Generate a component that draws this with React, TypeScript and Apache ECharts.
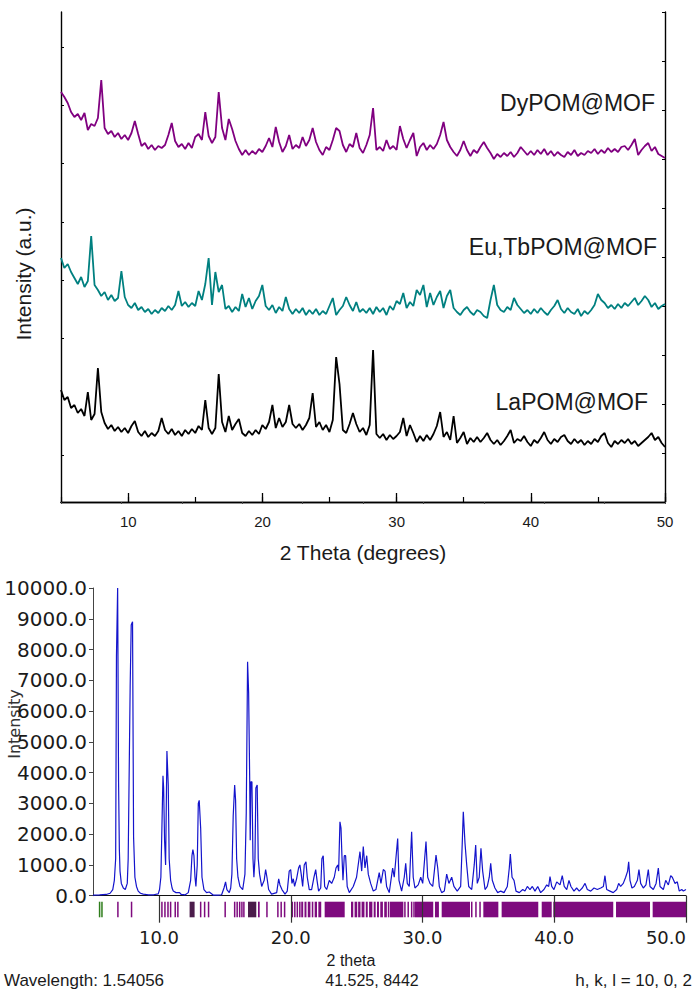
import React, { useEffect, useRef } from "react";
import * as echarts from "echarts";

// ---------- Top panel: measured PXRD (arbitrary units), 2θ from 5° step 0.25° ----------
const TOP_START = 5;
const TOP_STEP = 0.25;

const DY_POM = [
  410,405,399,390,385,388,382,389,372,378,376,384,422,374,368,371,365,369,363,367,
  362,369,381,368,356,359,353,357,352,356,354,357,367,379,361,355,358,353,359,354,
  365,368,362,390,366,359,365,410,374,362,383,373,361,353,347,352,347,351,348,353,
  350,356,364,355,375,360,350,356,367,353,357,354,365,356,362,374,360,352,347,355,
  352,362,374,371,357,350,358,355,369,354,349,357,367,394,352,355,351,362,353,356,
  352,376,363,354,362,369,346,355,359,352,357,353,358,367,380,362,355,350,346,352,
  361,352,346,352,349,355,360,354,349,343,348,345,349,346,350,345,349,355,351,347,
  351,347,352,348,353,347,351,346,350,347,345,350,347,352,346,349,347,351,349,353,
  348,352,349,354,350,353,350,355,356,352,357,363,347,352,356,359,351,355,348,346,
  344,
];

const EUTB_POM = [
  244,234,238,230,224,218,225,215,221,266,217,212,206,210,202,207,201,204,231,205,
  197,194,199,192,195,190,193,188,192,189,194,191,196,192,197,211,196,200,195,199,
  196,211,202,218,244,197,230,210,217,193,196,190,195,191,208,195,204,193,201,206,
  217,196,192,197,189,195,191,205,193,188,193,189,194,187,192,188,193,187,191,188,
  196,204,187,192,196,205,197,191,200,190,193,189,194,188,195,190,194,187,196,192,
  201,198,209,194,200,196,212,207,217,195,209,197,205,211,194,206,212,194,190,187,
  192,195,190,187,192,190,186,184,202,217,197,192,190,195,192,204,197,193,189,192,
  188,193,189,194,190,187,192,196,202,193,189,194,190,188,193,186,191,188,192,197,
  208,202,199,194,197,193,198,194,199,196,200,204,197,201,206,202,195,199,193,196,
  198,
];

const LA_POM = [
  112,102,105,94,97,89,93,86,110,82,88,134,90,79,73,77,71,75,70,74,
  69,76,81,70,66,71,65,69,66,71,84,72,68,73,67,71,66,72,68,73,
  69,76,72,102,74,68,74,128,80,70,86,72,78,83,69,66,71,67,72,68,
  77,73,80,97,74,84,75,80,97,78,74,78,72,77,84,109,75,80,72,77,
  70,82,145,118,72,69,78,89,78,70,74,67,77,152,68,64,68,62,67,63,
  66,70,84,66,77,69,60,66,61,67,62,68,76,90,65,70,62,86,59,64,
  70,58,64,60,65,60,64,69,62,58,62,57,61,66,72,59,63,61,66,60,
  56,62,59,64,70,62,58,63,60,65,67,61,58,63,59,62,57,61,58,63,
  60,66,69,59,55,61,58,62,59,63,58,61,56,59,62,65,69,62,65,59,
  55,
];

const SAMPLE_NAMES = ["DyPOM@MOF", "Eu,TbPOM@MOF", "LaPOM@MOF"];
const SAMPLE_COLORS = ["#800080", "#008080", "#000000"];

// ---------- Bottom panel: simulated pattern [2θ, intensity] ----------
const SIM_PATTERN = [
  [5.0,20],[5.5,25],[6.0,40],[6.3,80],[6.5,200],[6.62,500],[6.72,1200],[6.78,7800],[6.87,10000],[6.94,3700],[7.0,1500],[7.05,800],[7.15,400],[7.3,250],[7.45,200],[7.6,400],[7.67,1200],[7.82,6800],[7.9,8800],[8.0,8900],[8.08,1900],[8.18,600],[8.3,300],[8.43,150],[8.6,80],[8.81,50],[9.2,30],[9.6,30],[9.95,60],
  [10.05,200],[10.15,600],[10.2,1600],[10.31,3900],[10.36,3500],[10.43,1800],[10.51,1000],[10.61,4700],[10.71,3600],[10.78,1200],[10.89,500],[11.0,250],[11.09,150],[11.3,100],[11.57,100],[11.7,40],[12.0,30],
  [12.23,100],[12.41,500],[12.51,1300],[12.58,1500],[12.66,1300],[12.74,600],[12.81,300],[12.91,1000],[12.99,3000],[13.06,3100],[13.17,2200],[13.27,600],[13.42,200],[13.62,100],[13.82,120],[14.12,20],[14.5,20],[14.76,30],[14.94,250],[15.06,450],[15.16,200],[15.34,100],
  [15.45,250],[15.54,700],[15.64,2600],[15.75,3600],[15.82,3100],[15.9,1200],[16.0,600],[16.15,300],[16.36,200],[16.53,700],[16.63,2700],[16.73,7600],[16.81,6600],[16.89,3800],[16.93,1800],[16.98,3700],[17.06,3700],[17.14,1200],[17.21,600],[17.29,1200],[17.36,3500],[17.46,3600],[17.54,1200],[17.64,700],[17.8,300],[17.99,500],[18.1,850],[18.2,600],[18.33,200],[18.55,50],[18.94,100],[19.09,550],[19.19,350],[19.34,200],[19.57,50],[19.74,150],[19.89,800],[20.0,850],
  [20.1,400],[20.2,550],[20.3,300],[20.45,550],[20.6,900],[20.7,1000],[20.8,700],[20.91,300],[21.03,1000],[21.16,1100],[21.26,600],[21.41,200],[21.59,200],[21.77,600],[21.9,850],[22.0,500],[22.12,150],[22.28,250],[22.37,1200],[22.47,1300],[22.58,300],[22.73,200],[22.93,500],[23.11,400],[23.31,600],[23.44,900],[23.57,1000],[23.64,800],[23.74,2400],[23.82,2200],[23.89,1300],[23.97,500],[24.07,1300],[24.17,1300],[24.29,300],[24.45,100],
  [24.75,300],[25.0,600],[25.26,1430],[25.39,800],[25.51,1600],[25.64,900],[25.77,1300],[25.89,700],[26.07,400],[26.27,150],[26.47,200],[26.72,750],[26.85,400],[27.03,850],[27.16,800],[27.28,300],[27.48,100],[27.74,900],[27.86,600],[28.12,1860],[28.22,500],[28.42,150],[28.62,600],[28.73,1050],[28.85,400],[29.0,300],[29.18,2080],[29.3,600],[29.43,250],[29.68,350],[29.87,600],[30.02,400],[30.27,1760],[30.4,600],[30.57,400],[30.78,300],[31.03,1320],[31.16,900],[31.28,300],[31.46,100],[31.66,150],[31.84,700],[32.01,400],[32.22,600],[32.39,300],[32.64,150],[32.9,300],[33.02,1700],[33.1,2730],[33.23,1700],[33.36,1000],[33.51,300],[33.74,200],[33.93,1000],[34.04,1650],[34.16,400],[34.31,600],[34.44,1540],[34.57,800],[34.75,200],[34.92,300],[35.07,600],[35.18,1050],[35.3,500],[35.5,250],[35.71,100],[35.94,150],[36.19,100],[36.44,300],[36.59,900],[36.67,1350],[36.8,600],[36.95,500],[37.1,150],[37.35,100],[37.61,200],[37.78,150],[37.96,300],[38.16,200],[38.34,300],[38.54,150],[38.75,300],[38.97,100],[39.22,200],[39.43,350],[39.58,300],[39.68,620],[39.81,300],[39.98,200],[40.19,450],[40.44,350],[40.61,650],[40.76,300],[40.95,200],[41.12,500],[41.27,300],[41.5,150],[41.7,250],[41.9,150],[42.13,250],[42.34,400],[42.51,200],[42.77,150],[43.02,250],[43.27,200],[43.53,250],[43.73,300],[43.85,650],[43.98,200],[44.23,150],[44.48,100],[44.74,200],[44.89,400],[45.04,300],[45.24,400],[45.42,600],[45.57,800],[45.65,1100],[45.75,500],[45.9,250],[46.08,300],[46.31,500],[46.43,850],[46.56,400],[46.76,250],[46.96,350],[47.14,850],[47.27,300],[47.52,200],[47.73,400],[47.9,900],[48.03,300],[48.28,200],[48.46,500],[48.66,350],[48.84,650],[48.96,600],[49.17,400],[49.34,450],[49.49,150],[49.68,200],[49.8,150],[50.0,200],
];

// Reflection markers [from 2θ, to 2θ, kind] kind: 0 purple, 1 green, 2 dark mixed
const REFLECTIONS = [
  [5.50,5.50,1],[5.68,5.68,1],
  [6.89,6.89,0],[7.90,7.95,0],
  [10.23,10.23,0],[10.46,10.46,0],[10.69,10.69,0],[10.89,10.89,0],[11.24,11.24,0],[11.44,11.44,0],
  [12.33,12.71,2],
  [13.17,13.17,0],[13.47,13.47,0],[13.77,13.77,0],
  [15.03,15.03,0],[15.75,15.75,0],[15.94,15.94,0],[16.13,16.13,0],[16.30,16.30,0],[16.45,16.45,0],
  [16.76,17.39,2],[17.52,17.65,0],[18.2,18.2,0],[19.03,19.03,0],[19.28,19.28,0],[19.54,19.54,0],
  [20.10,20.15,0],[20.29,20.34,0],[20.48,20.53,0],[20.67,20.72,0],[20.80,20.95,0],[21.05,21.20,0],[21.30,21.50,0],[21.60,21.72,0],[21.82,22.00,0],[22.10,22.32,0],
  [22.58,24.10,0],
  [24.58,24.75,0],[24.85,25.05,0],[25.12,25.30,0],[25.38,25.60,0],[25.70,25.85,0],[25.95,26.20,0],[26.30,26.45,0],[26.55,26.70,0],[26.80,27.00,0],[27.10,27.30,0],[27.38,27.48,0],
  [27.53,28.55,0],
  [28.67,28.67,0],[28.92,28.92,0],[29.18,29.18,0],[29.36,29.36,0],
  [29.43,30.82,0],[30.95,31.25,0],[31.46,33.61,0],[33.74,33.74,0],[34.06,34.06,0],[34.37,34.37,0],
  [34.62,35.76,0],[36.01,38.79,0],[39.05,39.81,0],[39.93,44.48,0],[44.69,47.27,0],[47.47,50.0,0],
];
const REFLECTION_COLORS = ["#7e0a7e", "#2f7d1c", "#4b1d4b"];

const FOOTER = {
  wavelength: "Wavelength: 1.54056",
  axis: "2 theta",
  cursor: "41.525, 8442",
  hkl: "h, k, l = 10, 0, 2",
};

const TOP_FONT = "Liberation Sans";
const BOT_FONT = "DejaVu Sans";

function toPairs(arr: number[]) {
  return arr.map((v, i) => [TOP_START + i * TOP_STEP, v]);
}

function buildOption(): any {
  const noSplit = { show: false };
  const gridBase = { containLabel: false, outerBoundsMode: "none" };
  const centered = { align: "center", verticalAlign: "middle", textAlign: "center", textVerticalAlign: "middle" };
  return {
    animation: false,
    backgroundColor: "#ffffff",
    grid: [
      { ...gridBase, left: 61, top: 12, width: 604, height: 490 },
      { ...gridBase, left: 128.3, top: 12, width: 536.7, height: 490 },
      { ...gridBase, left: 61, top: 47, width: 604, height: 408 },
      { ...gridBase, left: 93, top: 588, width: 593, height: 307.7 },
      { ...gridBase, left: 159, top: 588, width: 527, height: 307.7 },
      { ...gridBase, left: 93, top: 901.7, width: 593, height: 15.6 },
    ],
    xAxis: [
      {
        gridIndex: 0, type: "value", min: 5, max: 50, interval: 5, position: "bottom",
        axisLine: { show: true, lineStyle: { color: "#000", width: 1.4 } },
        axisTick: { show: true, inside: true, length: 5, lineStyle: { color: "#000", width: 1.2 } },
        axisLabel: { show: false }, splitLine: noSplit,
        name: "2 Theta (degrees)", nameLocation: "middle", nameGap: 40,
        nameTextStyle: { fontFamily: TOP_FONT, fontSize: 21, color: "#1a1a1a" },
      },
      {
        gridIndex: 0, type: "value", min: 0, max: 10, interval: 1, position: "top",
        axisLine: { show: true, lineStyle: { color: "#000", width: 1.4 } },
        axisTick: { show: true, inside: true, length: 2, lineStyle: { color: "#444", width: 1 } },
        axisLabel: { show: false }, splitLine: noSplit,
      },
      {
        gridIndex: 1, type: "value", min: 10, max: 50, interval: 10, position: "bottom",
        axisLine: { show: false },
        axisTick: { show: true, inside: true, length: 9, lineStyle: { color: "#000", width: 1.3 } },
        axisLabel: { show: true, margin: 12, fontFamily: TOP_FONT, fontSize: 15, color: "#1a1a1a" },
        splitLine: noSplit,
      },
      { gridIndex: 2, type: "value", min: 0, max: 1, show: false },
      {
        gridIndex: 3, type: "value", min: 5, max: 50, interval: 5, position: "bottom",
        axisLine: { show: true, lineStyle: { color: "#111", width: 1 } },
        axisTick: { show: false }, axisLabel: { show: false }, splitLine: noSplit,
      },
      {
        gridIndex: 4, type: "value", min: 10, max: 50, interval: 10, position: "bottom", z: 10,
        axisLine: { show: false },
        axisTick: { show: true, inside: false, length: 27, lineStyle: { color: "#333", width: 1.2 } },
        axisLabel: {
          show: true, margin: 33, fontFamily: BOT_FONT, fontSize: 18, color: "#1a1a1a",
          alignMaxLabel: "right",
          formatter: (v: number) => v.toFixed(1),
        },
        splitLine: noSplit,
      },
      { gridIndex: 5, type: "value", min: 5, max: 50, show: false },
    ],
    yAxis: [
      {
        gridIndex: 0, type: "value", min: 0, max: 490, position: "left",
        axisLine: { show: true, lineStyle: { color: "#000", width: 1.4 } },
        axisTick: { show: false }, axisLabel: { show: false }, splitLine: noSplit,
      },
      {
        gridIndex: 0, type: "value", min: 0, max: 10, interval: 1, position: "right",
        axisLine: { show: true, lineStyle: { color: "#000", width: 1.4 } },
        axisTick: { show: true, inside: true, length: 3, lineStyle: { color: "#000", width: 1 } },
        axisLabel: { show: false }, splitLine: noSplit,
      },
      { gridIndex: 1, type: "value", min: 0, max: 490, show: false },
      {
        gridIndex: 2, type: "value", min: 0, max: 7, interval: 1, position: "left",
        axisLine: { show: false },
        axisTick: { show: true, inside: true, length: 3, lineStyle: { color: "#000", width: 1 } },
        axisLabel: { show: false }, splitLine: noSplit,
      },
      {
        gridIndex: 3, type: "value", min: 0, max: 10000, interval: 1000, position: "left",
        axisLine: { show: true, lineStyle: { color: "#444", width: 1 } },
        axisTick: { show: true, inside: false, length: 4, lineStyle: { color: "#444", width: 1 } },
        axisLabel: {
          show: true, margin: 6, fontFamily: BOT_FONT, fontSize: 20, color: "#1a1a1a",
          formatter: (v: number) => v.toFixed(1),
        },
        splitLine: noSplit,
      },
      { gridIndex: 4, type: "value", min: 0, max: 10000, show: false },
      { gridIndex: 5, type: "value", min: 0, max: 1, show: false },
    ],
    series: [
      ...[DY_POM, EUTB_POM, LA_POM].map((arr, k) => ({
        name: SAMPLE_NAMES[k],
        type: "line",
        xAxisIndex: 0,
        yAxisIndex: 0,
        data: toPairs(arr),
        showSymbol: false,
        symbol: "none",
        lineStyle: { color: SAMPLE_COLORS[k], width: 1.8 },
        itemStyle: { color: SAMPLE_COLORS[k] },
      })),
      {
        name: "simulated",
        type: "line",
        xAxisIndex: 4,
        yAxisIndex: 4,
        data: SIM_PATTERN,
        showSymbol: false,
        symbol: "none",
        lineStyle: { color: "#1414cc", width: 1.2 },
      },
      {
        name: "reflections",
        type: "custom",
        xAxisIndex: 6,
        yAxisIndex: 6,
        data: REFLECTIONS,
        encode: { x: [0, 1] },
        renderItem: (_params: any, api: any) => {
          const s = api.value(0);
          const e = api.value(1);
          const k = api.value(2);
          const p0 = api.coord([s, 1]);
          const p1 = api.coord([e, 0]);
          let x = p0[0];
          let w = p1[0] - p0[0];
          if (w < 1.5) {
            x -= (1.5 - w) / 2;
            w = 1.5;
          }
          return {
            type: "rect",
            shape: { x, y: p0[1], width: w, height: p1[1] - p0[1] },
            style: { fill: REFLECTION_COLORS[k] },
          };
        },
      },
    ],
    graphic: [
      ...SAMPLE_NAMES.map((name, k) => ({
        type: "text",
        x: [655, 657, 648][k],
        y: [103, 247, 402][k],
        style: {
          text: name, fill: "#1a1a1a", font: `23px "${TOP_FONT}"`,
          align: "right", verticalAlign: "middle", textAlign: "right", textVerticalAlign: "middle",
        },
      })),
      {
        type: "text", x: 23, y: 274, rotation: Math.PI / 2,
        style: { text: "Intensity (a.u.)", fill: "#1a1a1a", font: `21px "${TOP_FONT}"`, ...centered },
      },
      {
        type: "text", x: 14, y: 724, rotation: Math.PI / 2,
        style: { text: "Intensity", fill: "#333", font: `16px "${BOT_FONT}"`, ...centered },
      },
      {
        type: "text", x: 351, y: 960,
        style: { text: FOOTER.axis, fill: "#1a1a1a", font: `16px "${TOP_FONT}"`, ...centered },
      },
      {
        type: "text", x: 372, y: 980,
        style: { text: FOOTER.cursor, fill: "#1a1a1a", font: `16px "${TOP_FONT}"`, ...centered },
      },
      {
        type: "text", x: 4, y: 980,
        style: {
          text: FOOTER.wavelength, fill: "#1a1a1a", font: `17px "${TOP_FONT}"`,
          align: "left", verticalAlign: "middle", textAlign: "left", textVerticalAlign: "middle",
        },
      },
      {
        type: "text", x: 692, y: 980,
        style: {
          text: FOOTER.hkl, fill: "#1a1a1a", font: `17px "${TOP_FONT}"`,
          align: "right", verticalAlign: "middle", textAlign: "right", textVerticalAlign: "middle",
        },
      },
    ],
  };
}

export default function App() {
  const ref = useRef<HTMLDivElement>(null);
  useEffect(() => {
    document.body.style.margin = "0";
    const chart = echarts.init(ref.current as HTMLDivElement, null, { renderer: "svg" });
    chart.setOption(buildOption());
    return () => chart.dispose();
  }, []);
  return (
    <div
      ref={ref}
      style={{ position: "absolute", left: 0, top: 0, width: 700, height: 989, background: "#fff" }}
    />
  );
}
